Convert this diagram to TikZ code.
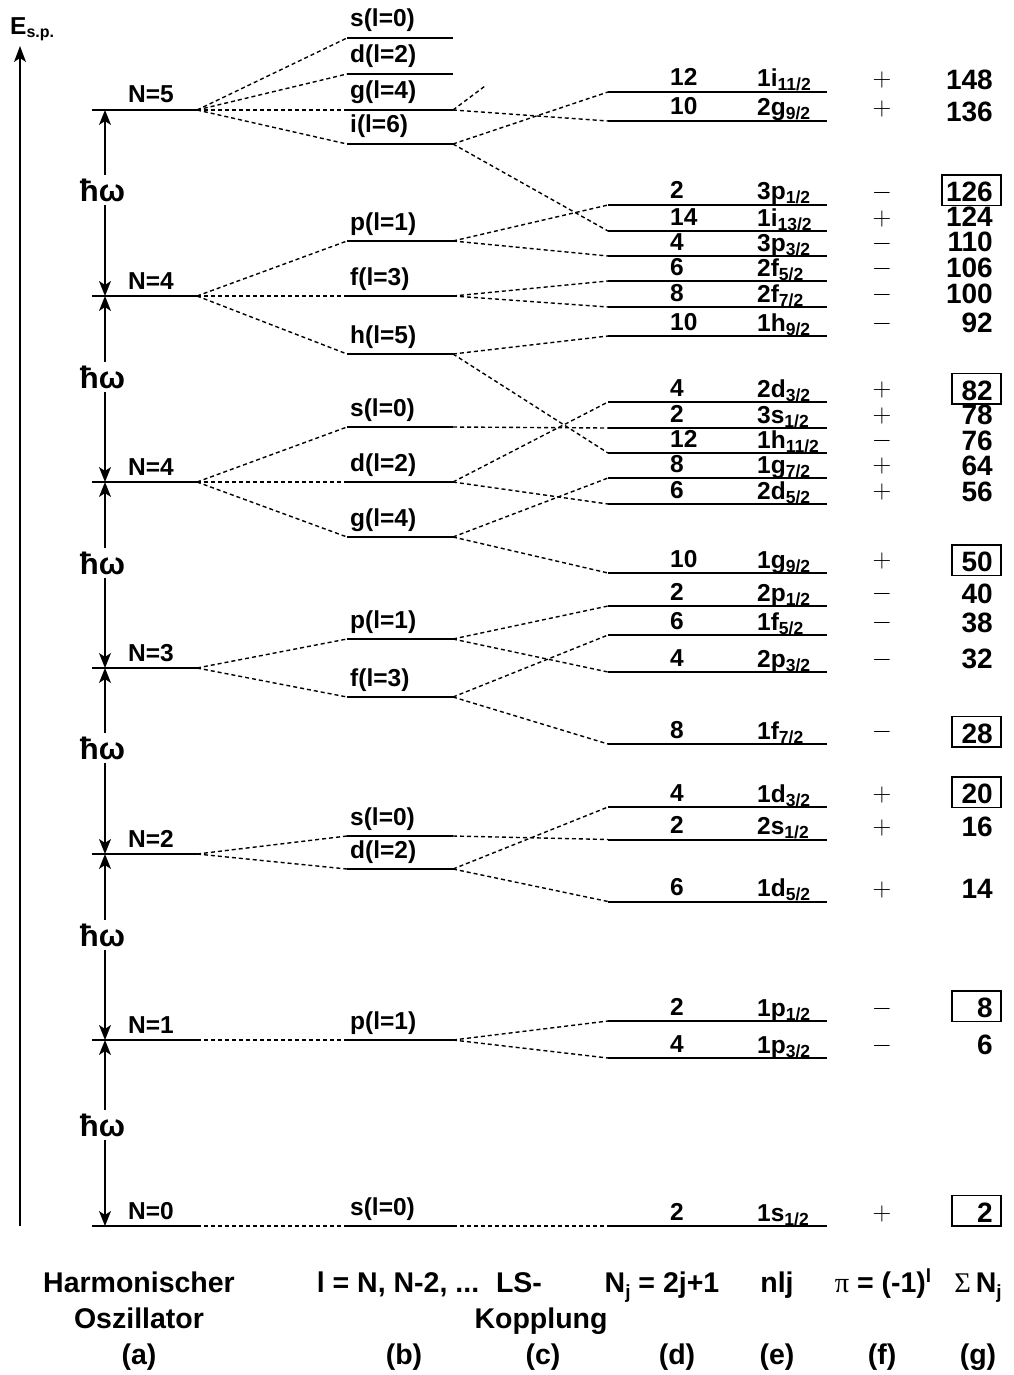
\RequirePackage{fix-cm}
\documentclass[tikz,border=0pt]{standalone}
\usepackage{fontspec}
\setmainfont{Liberation Sans}
\newfontfamily\serifsym{Liberation Serif}
\usetikzlibrary{arrows.meta,calc}

\tikzset{
  shell/.style={line width=2pt},
  conn/.style={line width=1.4pt, dash pattern=on 4pt off 3pt},
  lbl/.style={font=\fontsize{24.5}{28}\selectfont\bfseries, inner sep=0pt},
  sumlbl/.style={font=\fontsize{28}{32}\selectfont\bfseries, inner sep=0pt},
  parity/.style={font=\fontsize{26}{26}\selectfont, inner sep=0pt},
  sumbox/.style={line width=1.5pt},
  footlbl/.style={font=\fontsize{28.5}{32}\selectfont\bfseries, inner sep=0pt, anchor=base},
  hwarrow/.style={{Stealth[length=15pt,width=12pt,inset=4pt]}-{Stealth[length=15pt,width=12pt,inset=4pt]}, line width=1.5pt},
  hwlbl/.style={font=\fontsize{31}{32}\selectfont\bfseries, fill=white, inner xsep=1pt, inner ysep=4pt},
}

\newcommand\subsz{\fontsize{17.5}{18}\selectfont}

% oscillator shell: name, y, label
\newcommand\alevel[3]{%
  \coordinate (#1l) at (92,#2);
  \coordinate (#1r) at (197,#2);
  \coordinate (#1m) at (105,#2);
  \draw[shell] (#1l) -- (#1r);
  \node[lbl, anchor=base west] (#1t) at (128,#2-7) {#3};
}
% orbital angular momentum level: name, y, label
\newcommand\blevel[3]{%
  \coordinate (#1l) at (347,#2);
  \coordinate (#1r) at (453,#2);
  \draw[shell] (#1l) -- (#1r);
  \node[lbl, anchor=base west] (#1t) at (350,#2-11) {#3};
}
% spin-orbit level: name, y, 2j+1, nl, j, parity, running sum, sum baseline
\newcommand\dlevel[8]{%
  \coordinate (#1l) at (608,#2);
  \coordinate (#1r) at (827,#2);
  \draw[shell] (#1l) -- (#1r);
  \node[lbl, anchor=base west] (#1n) at (670,#2-6) {#3};
  \node[lbl, anchor=base west] (#1s) at (757,#2-5) {#4\raisebox{-4pt}{\subsz #5}};
  \node[parity] (#1p) at (882,#2-12) {$#6$};
  \node[sumlbl, anchor=base east] (#1g) at (993,#8) {#7};
}
% frame round a magic number: name, left offset
\newcommand\magicbox[2]{%
  \draw[sumbox] ($(#1g.base east)+(-#2,-26.5)$) rectangle ($(#1g.base east)+(8,4)$);
}

\begin{document}
\begin{tikzpicture}[x=1pt,y=-1pt]
\useasboundingbox (0,0) rectangle (1013,1375);
\fill[white] (0,0) rectangle (1013,1375);

% energy axis
\coordinate (axb) at (20,1226);
\coordinate (axt) at (20,46);
\draw[line width=1.5pt,-{Stealth[length=16pt,width=12pt,inset=4pt]}] (axb) -- (axt);
\node[lbl, anchor=base west] (esp) at (10,35) {E\raisebox{-3pt}{\fontsize{16}{16}\selectfont s.p.}};

% harmonic oscillator shells
\alevel{L6}{110}{N=5}
\alevel{L5}{296}{N=4}
\alevel{L4}{482}{N=4}
\alevel{L3}{668}{N=3}
\alevel{L2}{854}{N=2}
\alevel{L1}{1040}{N=1}
\alevel{L0}{1226}{N=0}

% shell spacings
\draw[hwarrow] (L6m) -- (L5m);
\draw[hwarrow] (L5m) -- (L4m);
\draw[hwarrow] (L4m) -- (L3m);
\draw[hwarrow] (L3m) -- (L2m);
\draw[hwarrow] (L2m) -- (L1m);
\draw[hwarrow] (L1m) -- (L0m);
\node[hwlbl] (hw6) at (102.5,190) {ħω};
\node[hwlbl] (hw5) at (102.5,377) {ħω};
\node[hwlbl] (hw4) at (102.5,563) {ħω};
\node[hwlbl] (hw3) at (102.5,748) {ħω};
\node[hwlbl] (hw2) at (102.5,935) {ħω};
\node[hwlbl] (hw1) at (102.5,1125) {ħω};

% l levels
\blevel{s6}{38}{s(l=0)}
\blevel{d6}{74}{d(l=2)}
\blevel{g6}{110}{g(l=4)}
\blevel{i6}{144}{i(l=6)}
\blevel{p5}{241}{p(l=1)}
\blevel{f5}{296}{f(l=3)}
\blevel{h5}{354}{h(l=5)}
\blevel{s4}{427}{s(l=0)}
\blevel{d4}{482}{d(l=2)}
\blevel{g4}{537}{g(l=4)}
\blevel{p3}{639}{p(l=1)}
\blevel{f3}{697}{f(l=3)}
\blevel{s2}{836}{s(l=0)}
\blevel{d2}{869}{d(l=2)}
\blevel{p1}{1040}{p(l=1)}
\blevel{s0}{1226}{s(l=0)}

% spin-orbit levels
\dlevel{n1i11}{92}{12}{1i}{11/2}{+}{148}{90}
\dlevel{n2g9}{121}{10}{2g}{9/2}{+}{136}{121.7}
\dlevel{n3p1}{205}{2}{3p}{1/2}{-}{126}{201.7}
\dlevel{n1i13}{231}{14}{1i}{13/2}{+}{124}{226.7}
\dlevel{n3p3}{256}{4}{3p}{3/2}{-}{110}{251.7}
\dlevel{n2f5}{281}{6}{2f}{5/2}{-}{106}{277.3}
\dlevel{n2f7}{307}{8}{2f}{7/2}{-}{100}{303.3}
\dlevel{n1h9}{336}{10}{1h}{9/2}{-}{92}{332.7}
\dlevel{n2d3}{402}{4}{2d}{3/2}{+}{82}{400}
\dlevel{n3s1}{428}{2}{3s}{1/2}{+}{78}{424}
\dlevel{n1h11}{453}{12}{1h}{11/2}{-}{76}{450}
\dlevel{n1g7}{478}{8}{1g}{7/2}{+}{64}{475}
\dlevel{n2d5}{504}{6}{2d}{5/2}{+}{56}{501.7}
\dlevel{n1g9}{573}{10}{1g}{9/2}{+}{50}{571.7}
\dlevel{n2p1}{606}{2}{2p}{1/2}{-}{40}{603}
\dlevel{n1f5}{635}{6}{1f}{5/2}{-}{38}{632.7}
\dlevel{n2p3}{672}{4}{2p}{3/2}{-}{32}{668.3}
\dlevel{n1f7}{744}{8}{1f}{7/2}{-}{28}{743}
\dlevel{n1d3}{807}{4}{1d}{3/2}{+}{20}{803.3}
\dlevel{n2s1}{839.5}{2}{2s}{1/2}{+}{16}{836}
\dlevel{n1d5}{901.5}{6}{1d}{5/2}{+}{14}{898}
\dlevel{n1p1}{1021}{2}{1p}{1/2}{-}{8}{1017.5}
\dlevel{n1p3}{1058}{4}{1p}{3/2}{-}{6}{1054.7}
\dlevel{n1s1}{1226}{2}{1s}{1/2}{+}{2}{1222}

% magic numbers
\magicbox{n3p1}{51}
\magicbox{n2d3}{41}
\magicbox{n1g9}{41}
\magicbox{n1f7}{41}
\magicbox{n1d3}{41}
\magicbox{n1p1}{41}
\magicbox{n1s1}{41}

% oscillator shell -> l levels
\draw[conn] (L6r) -- (s6l);
\draw[conn] (L6r) -- (d6l);
\draw[conn] (L6r) -- (g6l);
\draw[conn] (L6r) -- (i6l);
\draw[conn] (L5r) -- (p5l);
\draw[conn] (L5r) -- (f5l);
\draw[conn] (L5r) -- (h5l);
\draw[conn] (L4r) -- (s4l);
\draw[conn] (L4r) -- (d4l);
\draw[conn] (L4r) -- (g4l);
\draw[conn] (L3r) -- (p3l);
\draw[conn] (L3r) -- (f3l);
\draw[conn] (L2r) -- (s2l);
\draw[conn] (L2r) -- (d2l);
\draw[conn] (L1r) -- (p1l);
\draw[conn] (L0r) -- (s0l);

% l levels -> spin-orbit levels
\coordinate (g7stub) at (485,86);
\draw[conn] (g6r) -- (g7stub);
\draw[conn] (g6r) -- (n2g9l);
\draw[conn] (i6r) -- (n1i11l);
\draw[conn] (i6r) -- (n1i13l);
\draw[conn] (p5r) -- (n3p1l);
\draw[conn] (p5r) -- (n3p3l);
\draw[conn] (f5r) -- (n2f5l);
\draw[conn] (f5r) -- (n2f7l);
\draw[conn] (h5r) -- (n1h9l);
\draw[conn] (h5r) -- (n1h11l);
\draw[conn] (s4r) -- (n3s1l);
\draw[conn] (d4r) -- (n2d3l);
\draw[conn] (d4r) -- (n2d5l);
\draw[conn] (g4r) -- (n1g7l);
\draw[conn] (g4r) -- (n1g9l);
\draw[conn] (p3r) -- (n2p1l);
\draw[conn] (p3r) -- (n2p3l);
\draw[conn] (f3r) -- (n1f5l);
\draw[conn] (f3r) -- (n1f7l);
\draw[conn] (s2r) -- (n2s1l);
\draw[conn] (d2r) -- (n1d3l);
\draw[conn] (d2r) -- (n1d5l);
\draw[conn] (p1r) -- (n1p1l);
\draw[conn] (p1r) -- (n1p3l);
\draw[conn] (s0r) -- (n1s1l);

% column captions
\node[footlbl] (capa1) at (139,1292) {Harmonischer};
\node[footlbl] (capa2) at (139,1328) {Oszillator};
\node[footlbl] (capa3) at (139,1364) {(a)};
\node[footlbl] (capb1) at (398,1292) {l = N, N-2, ...};
\node[footlbl] (capb3) at (404,1364) {(b)};
\node[footlbl] (capc1) at (519,1292) {LS-};
\node[footlbl] (capc2) at (541,1328) {Kopplung};
\node[footlbl] (capc3) at (543,1364) {(c)};
\node[footlbl] (capd1) at (662,1292) {N\raisebox{-6pt}{\fontsize{19}{19}\selectfont j} = 2j+1};
\node[footlbl] (capd3) at (677,1364) {(d)};
\node[footlbl] (cape1) at (777,1292) {nlj};
\node[footlbl] (cape3) at (777,1364) {(e)};
\node[footlbl] (capf1) at (883,1292) {{\serifsym\mdseries π} = (-1)\raisebox{10pt}{\fontsize{19}{19}\selectfont l}};
\node[footlbl] (capf3) at (882,1364) {(f)};
\node[footlbl] (capg1) at (978,1292) {{\serifsym\mdseries Σ}\,N\raisebox{-6pt}{\fontsize{19}{19}\selectfont j}};
\node[footlbl] (capg3) at (978,1364) {(g)};
\end{tikzpicture}
\end{document}
